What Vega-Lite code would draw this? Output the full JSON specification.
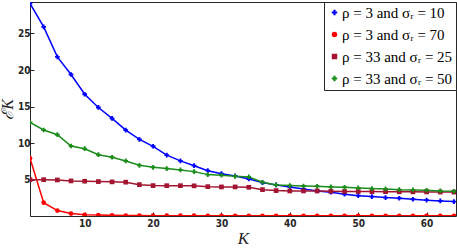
{
  "$schema": "https://vega.github.io/schema/vega-lite/v6.json",
  "autosize": {"type": "none"},
  "width": 426,
  "height": 214,
  "padding": {"left": 30, "top": 2, "right": 1, "bottom": 33},
  "config": {
    "view": {"stroke": "#262626", "strokeWidth": 1},
    "axis": {"grid": false, "domain": false, "tickColor": "#262626", "tickSize": -4, "labelColor": "#262626", "labelFont": "DejaVu Sans Condensed", "labelFontSize": 10, "labelFontWeight": "bold"}
  },
  "data": {"values": [
    {"K": 2, "a": 29.1, "b": 7.96, "c": 5.04, "d": 12.87},
    {"K": 4, "a": 25.9, "b": 1.9, "c": 5.04, "d": 11.82},
    {"K": 6, "a": 21.8, "b": 0.82, "c": 5.0, "d": 11.18},
    {"K": 8, "a": 19.4, "b": 0.41, "c": 4.87, "d": 9.64},
    {"K": 10, "a": 16.7, "b": 0.25, "c": 4.83, "d": 9.27},
    {"K": 12, "a": 14.9, "b": 0.2, "c": 4.78, "d": 8.45},
    {"K": 14, "a": 13.4, "b": 0.17, "c": 4.74, "d": 8.1},
    {"K": 16, "a": 11.8, "b": 0.15, "c": 4.7, "d": 7.6},
    {"K": 18, "a": 10.55, "b": 0.14, "c": 4.36, "d": 7.0},
    {"K": 20, "a": 9.6, "b": 0.13, "c": 4.23, "d": 6.73},
    {"K": 22, "a": 8.4, "b": 0.12, "c": 4.22, "d": 6.55},
    {"K": 24, "a": 7.6, "b": 0.12, "c": 4.22, "d": 6.37},
    {"K": 26, "a": 6.95, "b": 0.12, "c": 4.2, "d": 6.14},
    {"K": 28, "a": 6.27, "b": 0.11, "c": 4.09, "d": 5.73},
    {"K": 30, "a": 5.86, "b": 0.11, "c": 4.05, "d": 5.64},
    {"K": 32, "a": 5.55, "b": 0.11, "c": 4.05, "d": 5.5},
    {"K": 34, "a": 5.14, "b": 0.11, "c": 4.0, "d": 5.41},
    {"K": 36, "a": 4.64, "b": 0.11, "c": 3.68, "d": 4.69},
    {"K": 38, "a": 4.32, "b": 0.11, "c": 3.55, "d": 4.32},
    {"K": 40, "a": 4.05, "b": 0.1, "c": 3.5, "d": 4.23},
    {"K": 42, "a": 3.78, "b": 0.1, "c": 3.5, "d": 4.18},
    {"K": 44, "a": 3.5, "b": 0.1, "c": 3.5, "d": 4.14},
    {"K": 46, "a": 3.33, "b": 0.1, "c": 3.46, "d": 4.05},
    {"K": 48, "a": 3.05, "b": 0.1, "c": 3.43, "d": 4.0},
    {"K": 50, "a": 2.86, "b": 0.1, "c": 3.42, "d": 3.91},
    {"K": 52, "a": 2.73, "b": 0.1, "c": 3.41, "d": 3.82},
    {"K": 54, "a": 2.59, "b": 0.1, "c": 3.4, "d": 3.78},
    {"K": 56, "a": 2.5, "b": 0.1, "c": 3.39, "d": 3.68},
    {"K": 58, "a": 2.37, "b": 0.1, "c": 3.38, "d": 3.64},
    {"K": 60, "a": 2.24, "b": 0.1, "c": 3.37, "d": 3.6},
    {"K": 62, "a": 2.14, "b": 0.1, "c": 3.35, "d": 3.5},
    {"K": 64, "a": 2.05, "b": 0.1, "c": 3.34, "d": 3.46}
  ]},
  "transform": [{"fold": ["a", "b", "c", "d"], "as": ["series", "v"]}],
  "encoding": {
    "x": {"field": "K", "type": "quantitative", "scale": {"domain": [2, 64.3], "nice": false, "zero": false},
          "axis": {"values": [10, 20, 30, 40, 50, 60], "title": "K", "titleFont": "Liberation Serif", "titleFontStyle": "italic", "titleFontWeight": "normal", "titleFontSize": 17, "titleColor": "#262626", "titlePadding": 2, "labelPadding": 6}},
    "y": {"field": "v", "type": "quantitative", "scale": {"domain": [0.08, 29.3], "nice": false, "zero": false},
          "axis": {"values": [5, 10, 15, 20, 25], "title": "ℰK", "titleFont": "Liberation Serif", "titleFontStyle": "italic", "titleFontWeight": "normal", "titleFontSize": 16, "titleColor": "#262626", "titlePadding": 2, "labelPadding": 4}},
    "color": {"field": "series", "type": "nominal",
              "scale": {"domain": ["a", "b", "c", "d"], "range": ["#0000ff", "#ff0000", "#a2142f", "#1a8c1a"]},
              "legend": {"orient": "top-right", "offset": 0, "title": null, "fillColor": "white", "strokeColor": "#262626", "padding": 3, "rowPadding": 6, "labelFont": "Liberation Serif", "labelFontStyle": "normal", "labelFontWeight": "normal", "labelFontSize": 15, "labelColor": "#000000", "symbolType": "cross", "symbolSize": 30, "symbolStrokeWidth": 0, "labelOffset": 0,
                "labelExpr": "datum.value == 'a' ? 'ρ = 3 and σᵣ = 10' : datum.value == 'b' ? 'ρ = 3 and σᵣ = 70' : datum.value == 'c' ? 'ρ = 33 and σᵣ = 25' : 'ρ = 33 and σᵣ = 50'"}}
  },
  "layer": [
    {
      "mark": {"type": "line", "strokeWidth": 1.5, "clip": true}
    },
    {
      "mark": {"type": "point", "filled": true, "size": 22, "opacity": 1, "clip": true},
      "encoding": {
        "shape": {"field": "series", "type": "nominal", "legend": null,
                  "scale": {"domain": ["a", "b", "c", "d"], "range": ["cross", "circle", "square", "cross"]}}
      }
    }
  ]
}
